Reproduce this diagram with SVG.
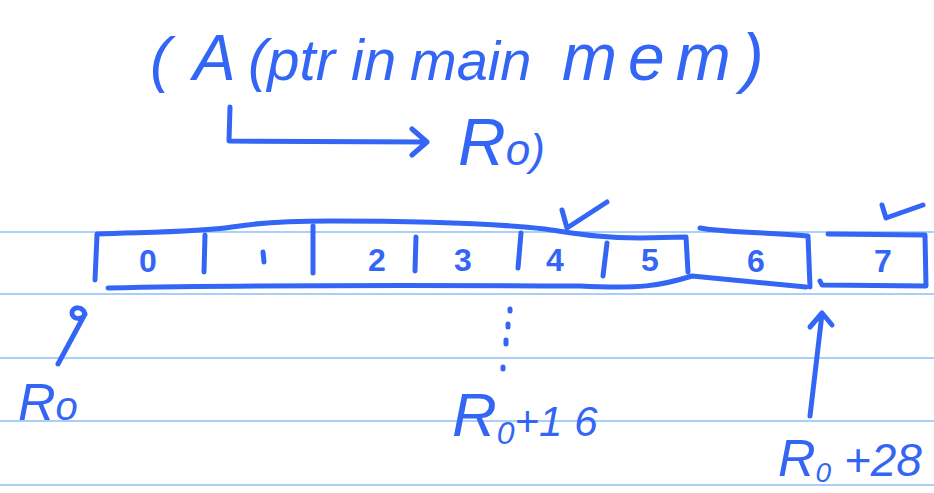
<svg xmlns="http://www.w3.org/2000/svg" width="934" height="493" viewBox="0 0 934 493">
<style>
.rule{stroke:#a9cff7;stroke-width:2;fill:none}
.ink{stroke:#3466f6;stroke-width:5;fill:none;stroke-linecap:round;stroke-linejoin:round}
.t{fill:#3466f6;font-family:"Liberation Sans",Arial,sans-serif;font-style:italic}
.d{fill:#3466f6;font-family:"Liberation Sans",Arial,sans-serif;font-size:32px;font-weight:bold;text-anchor:middle}
</style>
<rect width="934" height="493" fill="#fff"/>
<g id="rules">
<line class="rule" x1="0" y1="232" x2="934" y2="232"/>
<line class="rule" x1="0" y1="294" x2="934" y2="294"/>
<line class="rule" x1="0" y1="358" x2="934" y2="358"/>
<line class="rule" x1="0" y1="421" x2="934" y2="421"/>
<line class="rule" x1="0" y1="485" x2="934" y2="485"/>
</g>
<g id="title">
<text class="t" font-size="58" y="80"><tspan x="150" font-size="62">( </tspan><tspan x="193" font-size="64">A </tspan><tspan x="248">(ptr in </tspan><tspan x="410" font-size="56">main </tspan><tspan x="562" font-size="66" letter-spacing="11">mem)</tspan></text>
</g>
<g id="r0-label">
<text class="t" y="165"><tspan x="458" font-size="66">R</tspan><tspan font-size="44">o)</tspan></text>
</g>
<g id="array">
<path class="ink" d="M97,234 C150,232 200,232 232,227 C262,222 292,221 330,221 C420,221 500,224 545,229 C580,234 600,238 640,238 L686,237 L688,272"/>
<path class="ink" d="M97,235 L95,280"/>
<path class="ink" d="M108,288 C200,286 400,285 580,286 C640,289 660,286 692,276 L806,287"/>
<path class="ink" d="M700,228 C720,232 760,232 808,236 L810,287"/>
<path class="ink" d="M828,234 L925,235 L926,286 L822,285 L820,281"/>
<path class="ink" d="M205,235 L204,272 M313,226 L313,273 M416,237 L415,271 M521,233 L518,268 M607,243 L603,276"/>
<text class="d" x="148" y="272">0</text>
<path class="ink" d="M263,252 L264,262" stroke-width="6"/>
<text class="d" x="377" y="271">2</text>
<text class="d" x="463" y="271">3</text>
<text class="d" x="555" y="271">4</text>
<text class="d" x="650" y="271">5</text>
<text class="d" x="756" y="272">6</text>
<text class="d" x="883" y="272">7</text>
<path class="ink" d="M562,210 L567,228 L607,202"/>
<path class="ink" d="M882,205 L886,218 L923,205"/>
</g>
<g id="label-r0">
<text class="t" y="420"><tspan x="18" font-size="52">R</tspan><tspan font-size="40">o</tspan></text>
</g>
<g id="label-r0-16">
<text class="t" y="436"><tspan x="452" font-size="62">R</tspan><tspan font-size="32" dy="8">0</tspan><tspan font-size="42" dy="-8">+1 6</tspan></text>
</g>
<g id="label-r0-28">
<text class="t" y="476"><tspan x="778" font-size="52">R</tspan><tspan font-size="28" dy="6">0</tspan><tspan font-size="46" dy="-6"> +28</tspan></text>
</g>
<g id="connectors">
<path class="ink" d="M230,107 L229,141 L427,142 M412,129 L427,142 L412,155"/>
<path class="ink" d="M85,314 C83,306 72,306 72,313 C72,320 83,320 85,314 L58,364" stroke-width="4.5"/>
<path class="ink" d="M510,309 L510,311 M508,324 L508,327 M506,340 L506,344 M503,367 L503,369" stroke-width="6"/>
<path class="ink" d="M810,416 L822,314 M810,327 L822,313 L832,325"/>
</g>
</svg>
